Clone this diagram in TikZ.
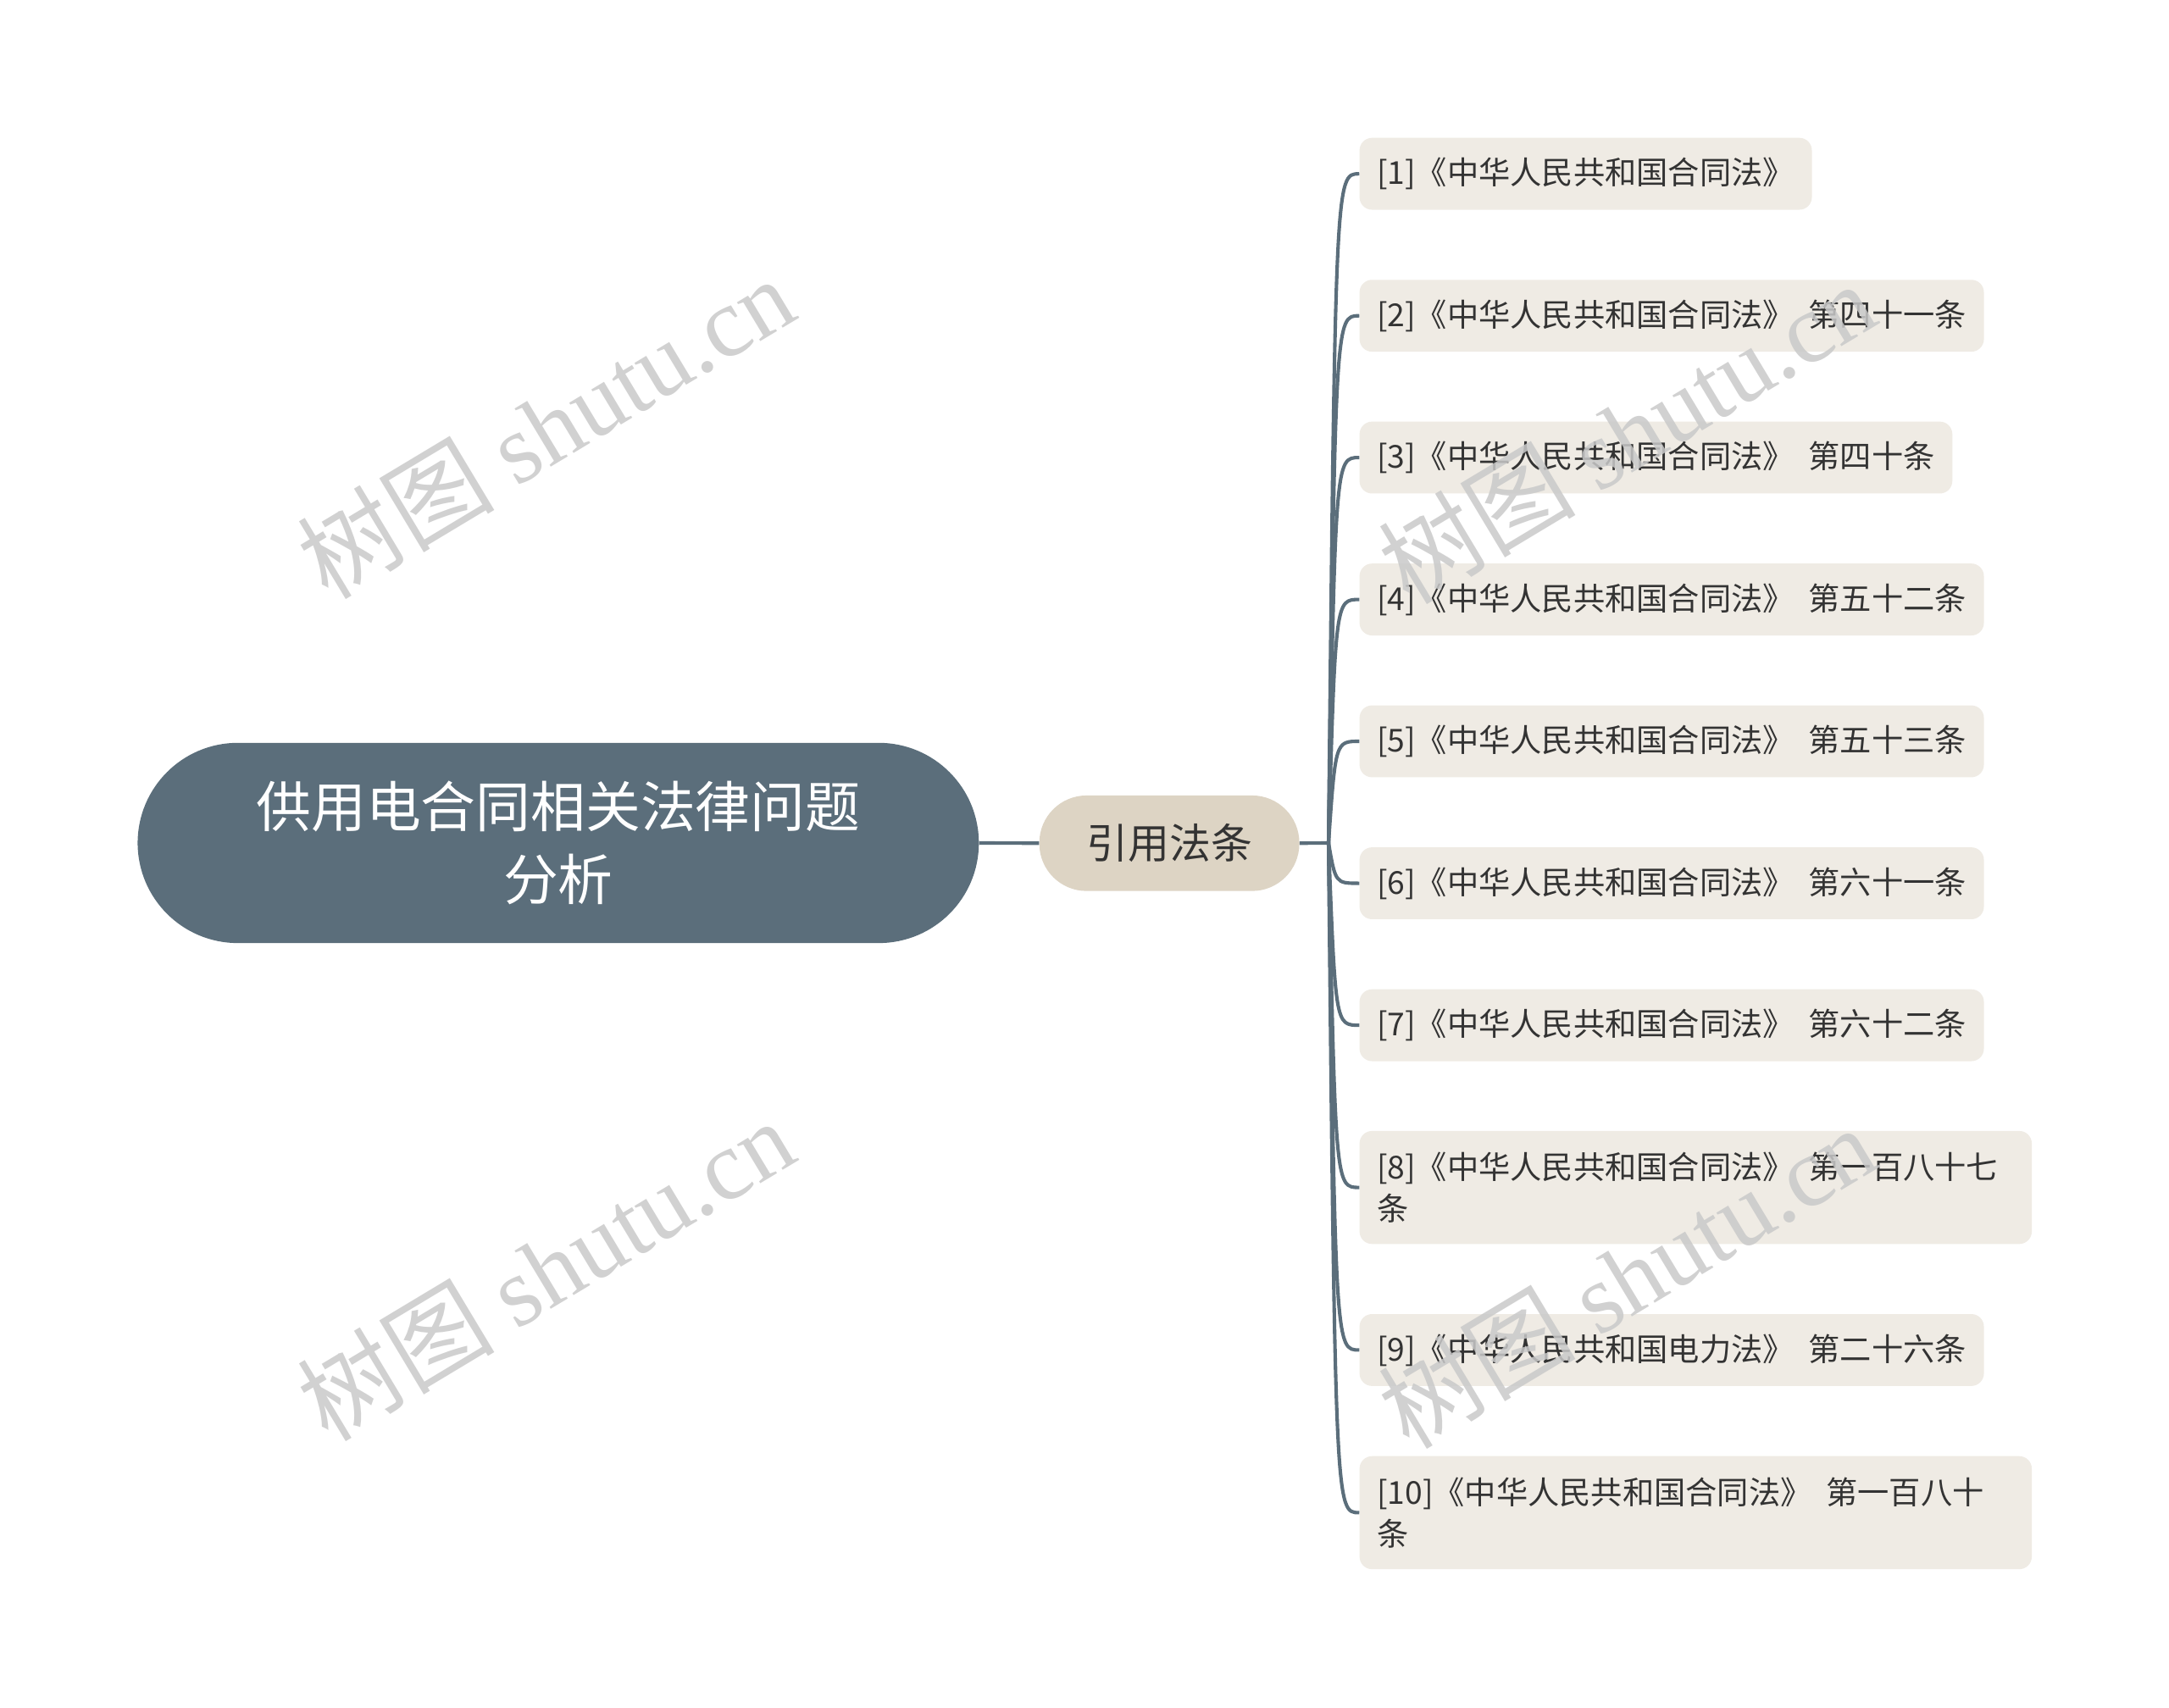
\documentclass[tikz,border=0pt]{standalone}
\usepackage{fontspec}
\setmainfont{Noto Sans CJK SC}
\newfontfamily\wmserif{Liberation Serif}
\usetikzlibrary{calc}
\definecolor{slate}{HTML}{5B6E7B}
\definecolor{beige}{HTML}{DDD4C4}
\definecolor{leaffill}{HTML}{EFEBE4}
\definecolor{darktext}{HTML}{333333}
\newcommand{\gap}{\hspace{0.45em}}
\tikzset{
  rootnode/.style={fill=slate, text=white, rounded corners=72pt, minimum width=605pt, minimum height=144pt, align=center, inner sep=0pt, font=\fontsize{39.5}{52.7}\selectfont},
  midnode/.style={fill=beige, text=darktext, rounded corners=34pt, minimum width=187pt, minimum height=68.7pt, inner sep=0pt, font=\fontsize{29.8}{36}\selectfont},
  leaf/.style={fill=leaffill, text=darktext, rounded corners=9pt, anchor=west, minimum height=51.7pt, inner xsep=12.5pt, inner ysep=0pt, align=left, font=\fontsize{22.7}{29.6}\selectfont},
  leafwide/.style={leaf, text width=458.5pt, minimum height=81.3pt},
  conn/.style={draw=slate, line width=2.5pt},
  wm/.style={text=black!21, opacity=0.85, rotate=31, font=\fontsize{71}{75}\selectfont}
}
\begin{document}
\begin{tikzpicture}[x=1pt,y=-1pt]
\useasboundingbox (0,0) rectangle (1560,1228);
\node[rootnode] (root) at (401.5,606.3) {供用电合同相关法律问题\\分析};
\node[midnode] (mid) at (841,606.5) {引用法条};
\coordinate (hub) at (955.5,606.3);
\node[leaf] (c1) at (977.6,125) {[1]《中华人民共和国合同法》};
\node[leaf] (c2) at (977.6,227.1) {[2]《中华人民共和国合同法》\gap 第四十一条};
\node[leaf] (c3) at (977.6,329.1) {[3]《中华人民共和国合同法》\gap 第四十条};
\node[leaf] (c4) at (977.6,431.2) {[4]《中华人民共和国合同法》\gap 第五十二条};
\node[leaf] (c5) at (977.6,533.2) {[5]《中华人民共和国合同法》\gap 第五十三条};
\node[leaf] (c6) at (977.6,635.3) {[6]《中华人民共和国合同法》\gap 第六十一条};
\node[leaf] (c7) at (977.6,737.4) {[7]《中华人民共和国合同法》\gap 第六十二条};
\node[leafwide] (c8) at (977.6,854.1) {[8]《中华人民共和国合同法》\gap 第一百八十七\\条};
\node[leaf] (c9) at (977.6,971.0) {[9]《中华人民共和国电力法》\gap 第二十六条};
\node[leafwide] (c10) at (977.6,1088) {[10]《中华人民共和国合同法》\gap 第一百八十\\条};
\draw[conn] (root.east) -- (mid.west);
\draw[conn] (mid.east) -- (hub);
\foreach \c in {c1,c2,c3,c4,c5,c6,c7,c8,c9,c10}{
  \draw[conn] (hub) .. controls ($(hub|-\c.west)+(5,0)$) .. (\c.west);
}
\node[wm] (w1) at (392,307) {树图 {\wmserif shutu.cn}};
\node[wm] (w2) at (392,913) {树图 {\wmserif shutu.cn}};
\node[wm] (w3) at (1170,311) {树图 {\wmserif shutu.cn}};
\node[wm] (w4) at (1170,918) {树图 {\wmserif shutu.cn}};
\end{tikzpicture}
\end{document}
